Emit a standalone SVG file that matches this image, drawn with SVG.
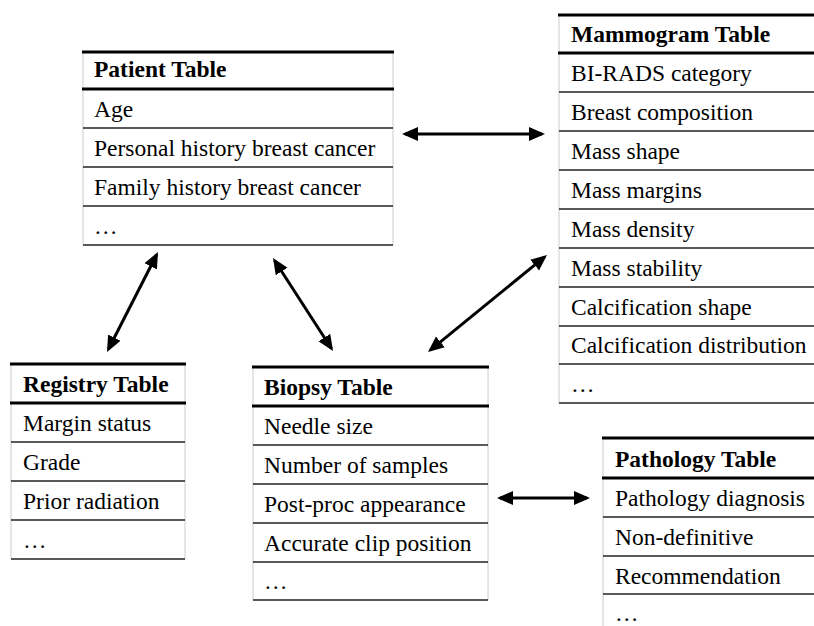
<svg xmlns="http://www.w3.org/2000/svg" width="814" height="626" viewBox="0 0 814 626">
<defs>
<style>
text{font-family:"Liberation Serif","Times New Roman",serif;font-size:23.5px;fill:#000}
.h{font-weight:bold}
.top{stroke:#000;stroke-width:3}
.hd{stroke:#000;stroke-width:3}
.row{stroke:#222;stroke-width:1.3}
.bot{stroke:#222;stroke-width:1.6}
.side{stroke:#ccc;stroke-width:1}
.conn line{stroke:#000;stroke-width:3;marker-start:url(#ah);marker-end:url(#ah)}
</style>
<marker id="ah" markerUnits="userSpaceOnUse" markerWidth="17" markerHeight="15" refX="13" refY="7" orient="auto-start-reverse" viewBox="0 0 17 15">
<path d="M0,0 L16,7 L0,14 z" fill="#000"/>
</marker>
</defs>
<rect width="814" height="626" fill="#fff"/>

<g id="patient">
<line class="side" x1="83" y1="52" x2="83" y2="245"/>
<line class="side" x1="393" y1="52" x2="393" y2="245"/>
<line class="top" x1="82" y1="52" x2="394" y2="52"/>
<line class="hd" x1="82" y1="89" x2="394" y2="89"/>
<line class="row" x1="83" y1="128" x2="393" y2="128"/>
<line class="row" x1="83" y1="167" x2="393" y2="167"/>
<line class="row" x1="83" y1="206" x2="393" y2="206"/>
<line class="bot" x1="83" y1="245" x2="393" y2="245"/>
<text class="h" x="94" y="77">Patient Table</text>
<text x="94" y="117">Age</text>
<text x="94" y="156">Personal history breast cancer</text>
<text x="94" y="195">Family history breast cancer</text>
<text x="94" y="234">…</text>
</g>

<g id="mammogram">
<line class="side" x1="559" y1="15" x2="559" y2="403"/>
<line class="top" x1="558" y1="15" x2="814" y2="15"/>
<line class="hd" x1="558" y1="53" x2="814" y2="53"/>
<line class="row" x1="559" y1="92" x2="814" y2="92"/>
<line class="row" x1="559" y1="131" x2="814" y2="131"/>
<line class="row" x1="559" y1="170" x2="814" y2="170"/>
<line class="row" x1="559" y1="209" x2="814" y2="209"/>
<line class="row" x1="559" y1="248" x2="814" y2="248"/>
<line class="row" x1="559" y1="287" x2="814" y2="287"/>
<line class="row" x1="559" y1="326" x2="814" y2="326"/>
<line class="row" x1="559" y1="364" x2="814" y2="364"/>
<line class="bot" x1="559" y1="403" x2="814" y2="403"/>
<text class="h" x="571" y="42">Mammogram Table</text>
<text x="571" y="81">BI-RADS category</text>
<text x="571" y="120">Breast composition</text>
<text x="571" y="159">Mass shape</text>
<text x="571" y="198">Mass margins</text>
<text x="571" y="237">Mass density</text>
<text x="571" y="276">Mass stability</text>
<text x="571" y="315">Calcification shape</text>
<text x="571" y="353">Calcification distribution</text>
<text x="571" y="392">…</text>
</g>

<g id="registry">
<line class="side" x1="11" y1="364" x2="11" y2="559"/>
<line class="side" x1="185" y1="364" x2="185" y2="559"/>
<line class="top" x1="10" y1="364" x2="186" y2="364"/>
<line class="hd" x1="10" y1="403" x2="186" y2="403"/>
<line class="row" x1="11" y1="442" x2="185" y2="442"/>
<line class="row" x1="11" y1="481" x2="185" y2="481"/>
<line class="row" x1="11" y1="520" x2="185" y2="520"/>
<line class="bot" x1="11" y1="559" x2="185" y2="559"/>
<text class="h" x="23" y="392">Registry Table</text>
<text x="23" y="431">Margin status</text>
<text x="23" y="470">Grade</text>
<text x="23" y="509">Prior radiation</text>
<text x="23" y="548">…</text>
</g>

<g id="biopsy">
<line class="side" x1="253" y1="367" x2="253" y2="600"/>
<line class="side" x1="488" y1="367" x2="488" y2="600"/>
<line class="top" x1="252" y1="367" x2="489" y2="367"/>
<line class="hd" x1="252" y1="406" x2="489" y2="406"/>
<line class="row" x1="253" y1="445" x2="488" y2="445"/>
<line class="row" x1="253" y1="484" x2="488" y2="484"/>
<line class="row" x1="253" y1="523" x2="488" y2="523"/>
<line class="row" x1="253" y1="562" x2="488" y2="562"/>
<line class="bot" x1="253" y1="600" x2="488" y2="600"/>
<text class="h" x="264" y="395">Biopsy Table</text>
<text x="264" y="434">Needle size</text>
<text x="264" y="473">Number of samples</text>
<text x="264" y="512">Post-proc appearance</text>
<text x="264" y="551">Accurate clip position</text>
<text x="264" y="589">…</text>
</g>

<g id="pathology">
<line class="side" x1="603" y1="438" x2="603" y2="626"/>
<line class="top" x1="602" y1="438" x2="814" y2="438"/>
<line class="hd" x1="602" y1="478" x2="814" y2="478"/>
<line class="row" x1="603" y1="517" x2="814" y2="517"/>
<line class="row" x1="603" y1="556" x2="814" y2="556"/>
<line class="row" x1="603" y1="594" x2="814" y2="594"/>
<text class="h" x="615" y="467">Pathology Table</text>
<text x="615" y="506">Pathology diagnosis</text>
<text x="615" y="545">Non-definitive</text>
<text x="615" y="584">Recommendation</text>
<text x="615" y="621">…</text>
</g>

<g id="connectors" class="conn">
<line x1="405" y1="134" x2="542" y2="134"/>
<line x1="156.6" y1="254.7" x2="108.4" y2="349.3"/>
<line x1="274.6" y1="260.5" x2="331.4" y2="348.5"/>
<line x1="544.7" y1="256.9" x2="430.3" y2="350.1"/>
<line x1="500" y1="498" x2="587" y2="498"/>
</g>
</svg>
